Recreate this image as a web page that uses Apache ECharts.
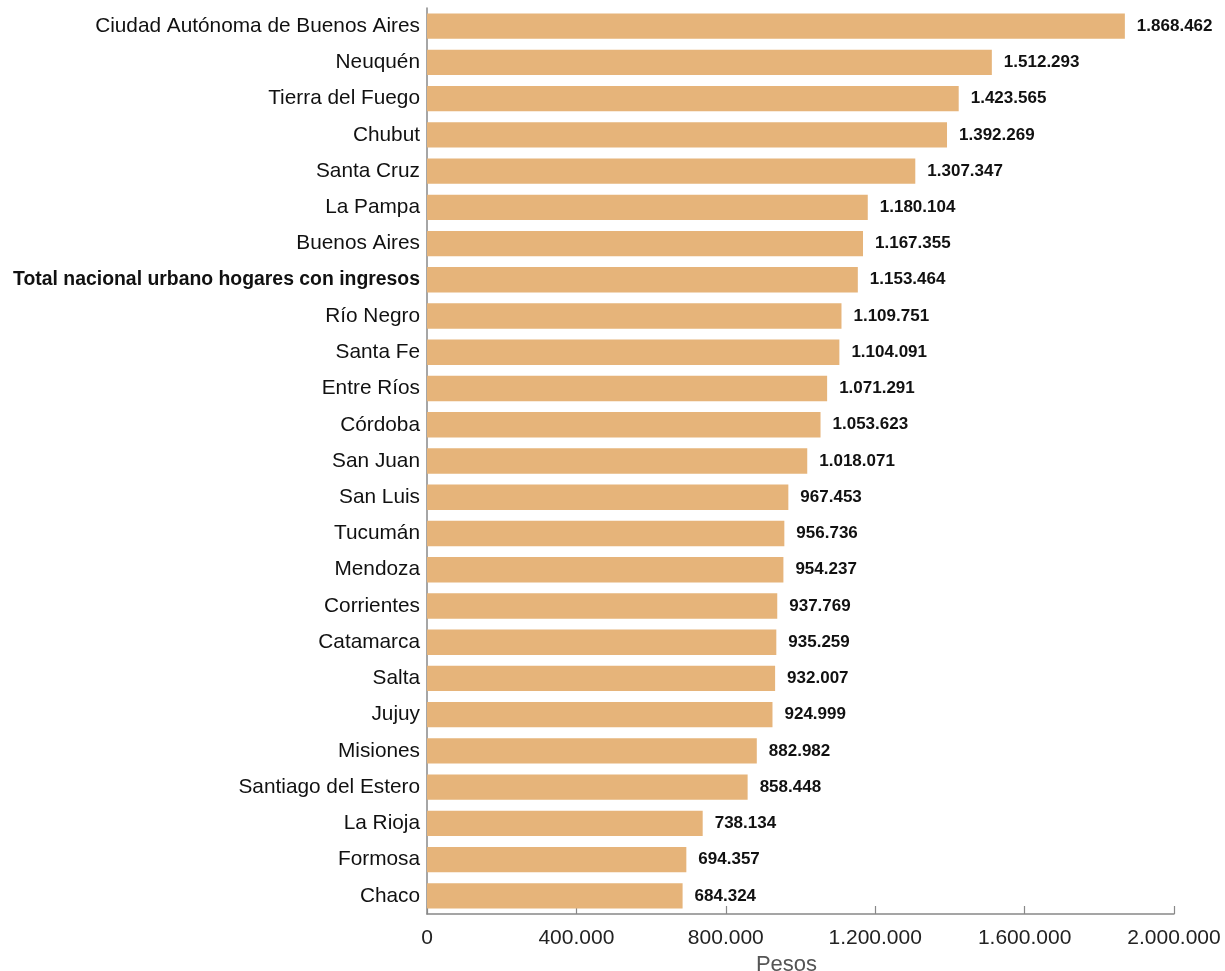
<!DOCTYPE html>
<html><head><meta charset="utf-8">
<script src="https://cdn.jsdelivr.net/npm/echarts@6/dist/echarts.min.js"></script>
<style>html,body{margin:0;padding:0;background:#fff}#c{width:1225px;height:971px}</style>
</head><body><div id="c"></div>
<script>
const categories = ["Ciudad Autónoma de Buenos Aires","Neuquén","Tierra del Fuego","Chubut","Santa Cruz","La Pampa","Buenos Aires","Total nacional urbano hogares con ingresos","Río Negro","Santa Fe","Entre Ríos","Córdoba","San Juan","San Luis","Tucumán","Mendoza","Corrientes","Catamarca","Salta","Jujuy","Misiones","Santiago del Estero","La Rioja","Formosa","Chaco"];
const values = [1868462,1512293,1423565,1392269,1307347,1180104,1167355,1153464,1109751,1104091,1071291,1053623,1018071,967453,956736,954237,937769,935259,932007,924999,882982,858448,738134,694357,684324];
const fmt = v => String(v).replace(/\B(?=(\d{3})+(?!\d))/g, '.');
const chart = echarts.init(document.getElementById('c'));
chart.setOption({
  animation:false,
  grid:{left:427,right:51,top:8,bottom:57,containLabel:false,outerBoundsMode:'none'},
  xAxis:{type:'value',min:0,max:2000000,interval:400000,
    name:'Pesos',nameLocation:'middle',nameGap:39,
    nameTextStyle:{fontFamily:'Liberation Sans',fontSize:22,color:'#555',padding:[0,28,0,0]},
    axisLine:{show:true,lineStyle:{color:'#888',width:1.5}},
    axisTick:{show:true,inside:true,length:8,lineStyle:{color:'#888',width:1.2}},
    splitLine:{show:false},
    axisLabel:{formatter:fmt,fontFamily:'Liberation Sans',fontSize:21,color:'#222',margin:14}},
  yAxis:{type:'category',data:categories,inverse:true,
    axisLine:{show:true,lineStyle:{color:'#888',width:1.5}},
    axisTick:{show:false},
    axisLabel:{fontFamily:'Liberation Sans',fontSize:20.8,color:'#111',margin:7,
      formatter:(v)=> v.startsWith('Total') ? '{b|'+v+'}' : v,
      rich:{b:{fontWeight:'bold',fontFamily:'Liberation Sans',fontSize:19.4,color:'#111'}}}},
  series:[{type:'bar',data:values,barCategoryGap:'30%',
    itemStyle:{color:'#E6B47A'},
    label:{show:true,position:'right',distance:12,formatter:p=>fmt(p.value),
      fontFamily:'Liberation Sans',fontWeight:'bold',fontSize:17,color:'#111'}}]
});
</script></body></html>
